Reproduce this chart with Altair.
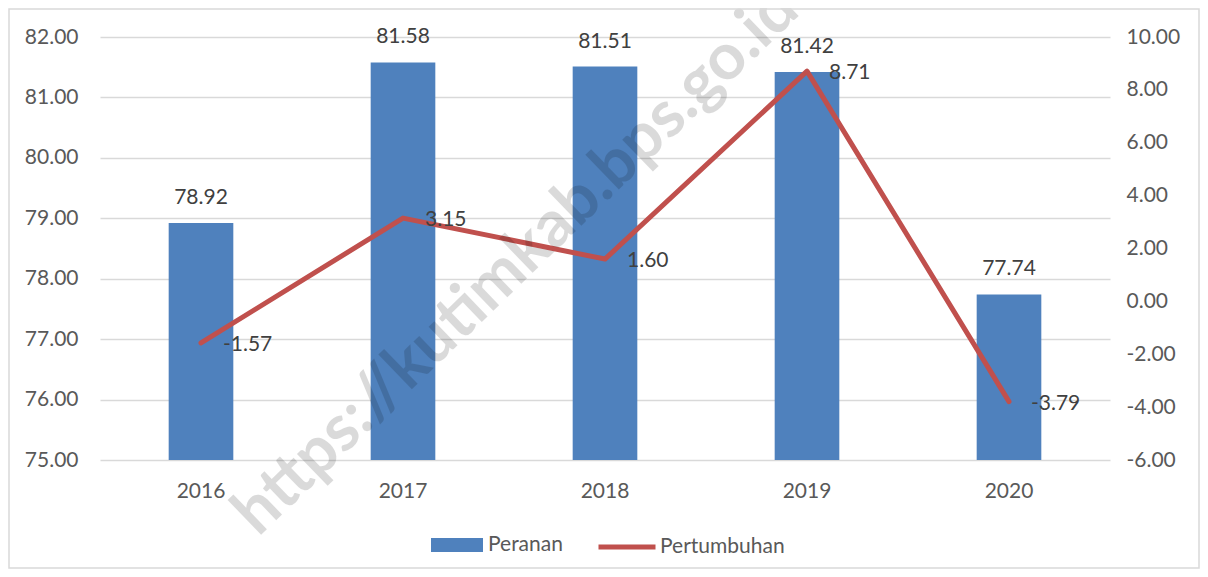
import altair as alt
import pandas as pd

years = ["2016", "2017", "2018", "2019", "2020"]
peranan = [78.92, 81.58, 81.51, 81.42, 77.74]
pertumbuhan = [-1.57, 3.15, 1.60, 8.71, -3.79]
left_ticks = [75, 76, 77, 78, 79, 80, 81, 82]
right_ticks = [-6, -4, -2, 0, 2, 4, 6, 8, 10]
watermark = ["https://kutimkab.bps.go.id"]

df = pd.DataFrame({"year": years, "peranan": peranan, "pertumbuhan": pertumbuhan,
                   "s1": ["Peranan"] * 5, "s2": ["Pertumbuhan"] * 5})

FONT = "Lato"
FS = 21
BLUE = "#4F81BD"
RED = "#C0504D"
AXC = "#595959"
LBC = "#404040"
HY = "replace(format(datum.value, '.2f'), '\u2212', '-')"

x = alt.X("year:N", sort=years,
          scale=alt.Scale(paddingInner=0.68, paddingOuter=0.34),
          axis=alt.Axis(title=None, labelAngle=0, labelFontSize=FS, labelColor=AXC,
                        labelFont=FONT, labelPadding=20, domain=False, ticks=False))

yl = alt.Y("peranan:Q", scale=alt.Scale(domain=[75, 82], nice=False, zero=False),
           axis=alt.Axis(title=None, orient="left", values=left_ticks, labelExpr=HY,
                         labelFontSize=FS, labelColor=AXC, labelFont=FONT,
                         labelPadding=22, domain=False, ticks=False, grid=True,
                         gridColor="#D9D9D9", gridWidth=1.5))

yr = alt.Y("pertumbuhan:Q", scale=alt.Scale(domain=[-6, 10], nice=False, zero=False),
           axis=alt.Axis(title=None, orient="right", values=right_ticks, labelExpr=HY,
                         labelFontSize=FS, labelColor=AXC, labelFont=FONT,
                         labelPadding=16, domain=False, ticks=False, grid=False))

base = alt.Chart(df).transform_calculate(
    lab1="replace(format(datum.peranan, '.2f'), '\u2212', '-')",
    lab2="replace(format(datum.pertumbuhan, '.2f'), '\u2212', '-')",
)

bars = base.mark_bar(color=BLUE).encode(
    x=x, y=yl, y2=alt.datum(75),
    color=alt.Color("s1:N", scale=alt.Scale(domain=["Peranan"], range=[BLUE]),
                    legend=alt.Legend(title=None, orient="none", legendX=331, legendY=482,
                                      symbolType="M-1,-0.27H1V0.27H-1Z", symbolSize=2704,
                                      symbolStrokeWidth=0, labelFontSize=FS, labelColor=AXC,
                                      labelFont=FONT, labelOffset=5)))
bar_text = base.mark_text(dy=-25, fontSize=FS, color=LBC, font=FONT).encode(
    x=x, y=yl, text="lab1:N")

line = base.mark_line(strokeWidth=5, strokeCap="round", strokeJoin="round").encode(
    x=x, y=yr,
    stroke=alt.Stroke("s2:N", scale=alt.Scale(domain=["Pertumbuhan"], range=[RED]),
                      legend=alt.Legend(title=None, orient="none", legendX=496, legendY=479,
                                        symbolType="stroke", symbolSize=3249,
                                        symbolStrokeWidth=5, labelFontSize=FS, labelColor=AXC,
                                        labelFont=FONT, labelOffset=2)))
line_text = base.mark_text(align="left", dx=22, dy=2, fontSize=FS, color=LBC, font=FONT).encode(
    x=x, y=yr, text="lab2:N")

wm = alt.Chart(pd.DataFrame({"t": watermark})).mark_text(
    angle=316, fontSize=65, fontWeight="bold", font=FONT, color="#000000", opacity=0.14
).encode(text="t:N", x=alt.value(416), y=alt.value(224))

border = alt.Chart(pd.DataFrame({"t": watermark})).mark_rect(
    fillOpacity=0, stroke="#D9D9D9", strokeWidth=1.5
).encode(x=alt.value(-91), x2=alt.value(1099), y=alt.value(-28), y2=alt.value(531))

chart = alt.layer(
    alt.layer(bars, bar_text),
    alt.layer(line, line_text),
    wm, border
).resolve_scale(y="independent").properties(
    width=1010, height=423,
    autosize=alt.AutoSizeParams(type="none"),
    padding={"left": 92, "top": 29, "right": 90, "bottom": 109},
    background="white"
).configure_view(stroke=None)

chart.save("out.html", embed_options={"renderer": "svg", "actions": False})
